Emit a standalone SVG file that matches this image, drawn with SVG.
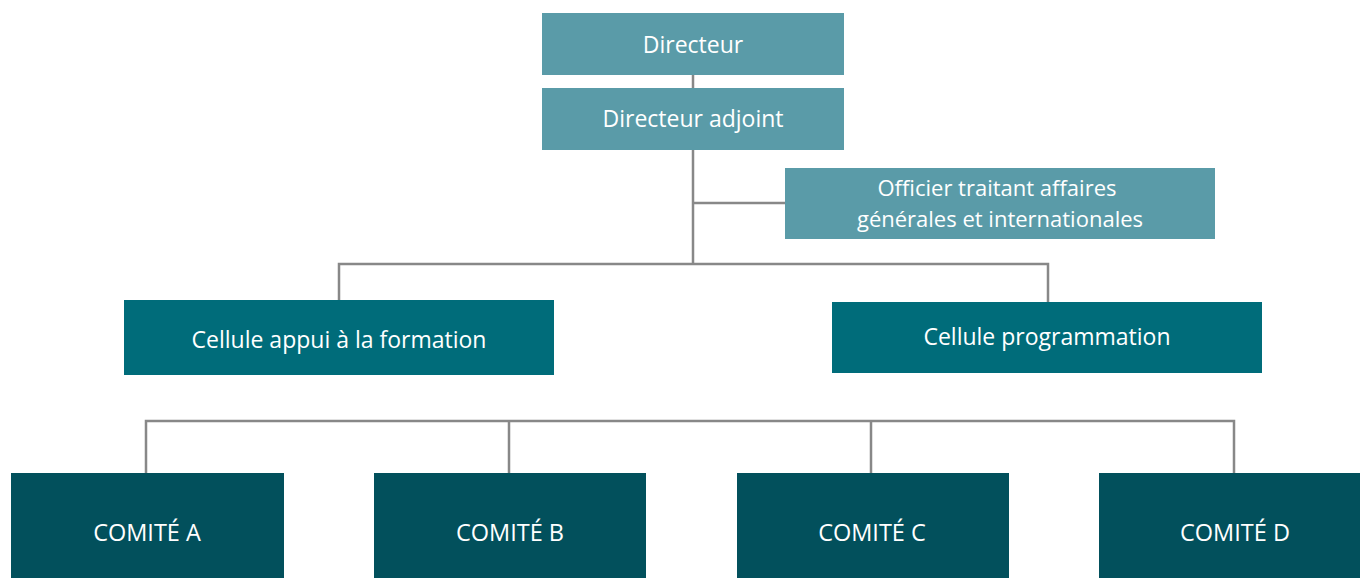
<svg xmlns="http://www.w3.org/2000/svg" width="1360" height="578" viewBox="0 0 1360 578">
<style>
.t{font-family:"Open Sans","Noto Sans",sans-serif;font-size:23px;fill:#fff;text-anchor:middle;dominant-baseline:central}
.u{font-size:23.5px}
.o{font-size:22px}
.l1{fill:#5A9BA8}
.l2{fill:#006C7A}
.l3{fill:#02505C}
.c{stroke:#888;stroke-width:2.5;fill:none}
</style>
<rect width="1360" height="578" fill="#fff"/>
<g id="connectors">
<path class="c" d="M693 75V88M693 150V264M693 203H785M339 300V264H1048V302"/>
<path class="c" d="M146 473V421H1234V473M509 421V473M871 421V473"/>
</g>
<g id="directeur"><rect class="l1" x="542" y="13" width="302" height="62"/><text class="t" x="693" y="44">Directeur</text></g>
<g id="directeur-adjoint"><rect class="l1" x="542" y="88" width="302" height="62"/><text class="t" x="693" y="118">Directeur adjoint</text></g>
<g id="officier"><rect class="l1" x="785" y="168" width="430" height="71"/><text class="t o" x="997" y="187">Officier traitant affaires</text><text class="t o" x="1000" y="218">générales et internationales</text></g>
<g id="cellule-appui"><rect class="l2" x="124" y="300" width="430" height="75"/><text class="t" x="339" y="339">Cellule appui à la formation</text></g>
<g id="cellule-programmation"><rect class="l2" x="832" y="302" width="430" height="71"/><text class="t" x="1047" y="336">Cellule programmation</text></g>
<g id="comite-a"><rect class="l3" x="11" y="473" width="273" height="105"/><text class="t u" x="147" y="532">COMITÉ A</text></g>
<g id="comite-b"><rect class="l3" x="374" y="473" width="272" height="105"/><text class="t u" x="510" y="532">COMITÉ B</text></g>
<g id="comite-c"><rect class="l3" x="737" y="473" width="272" height="105"/><text class="t u" x="872" y="532">COMITÉ C</text></g>
<g id="comite-d"><rect class="l3" x="1099" y="473" width="261" height="105"/><text class="t u" x="1235" y="532">COMITÉ D</text></g>
</svg>
